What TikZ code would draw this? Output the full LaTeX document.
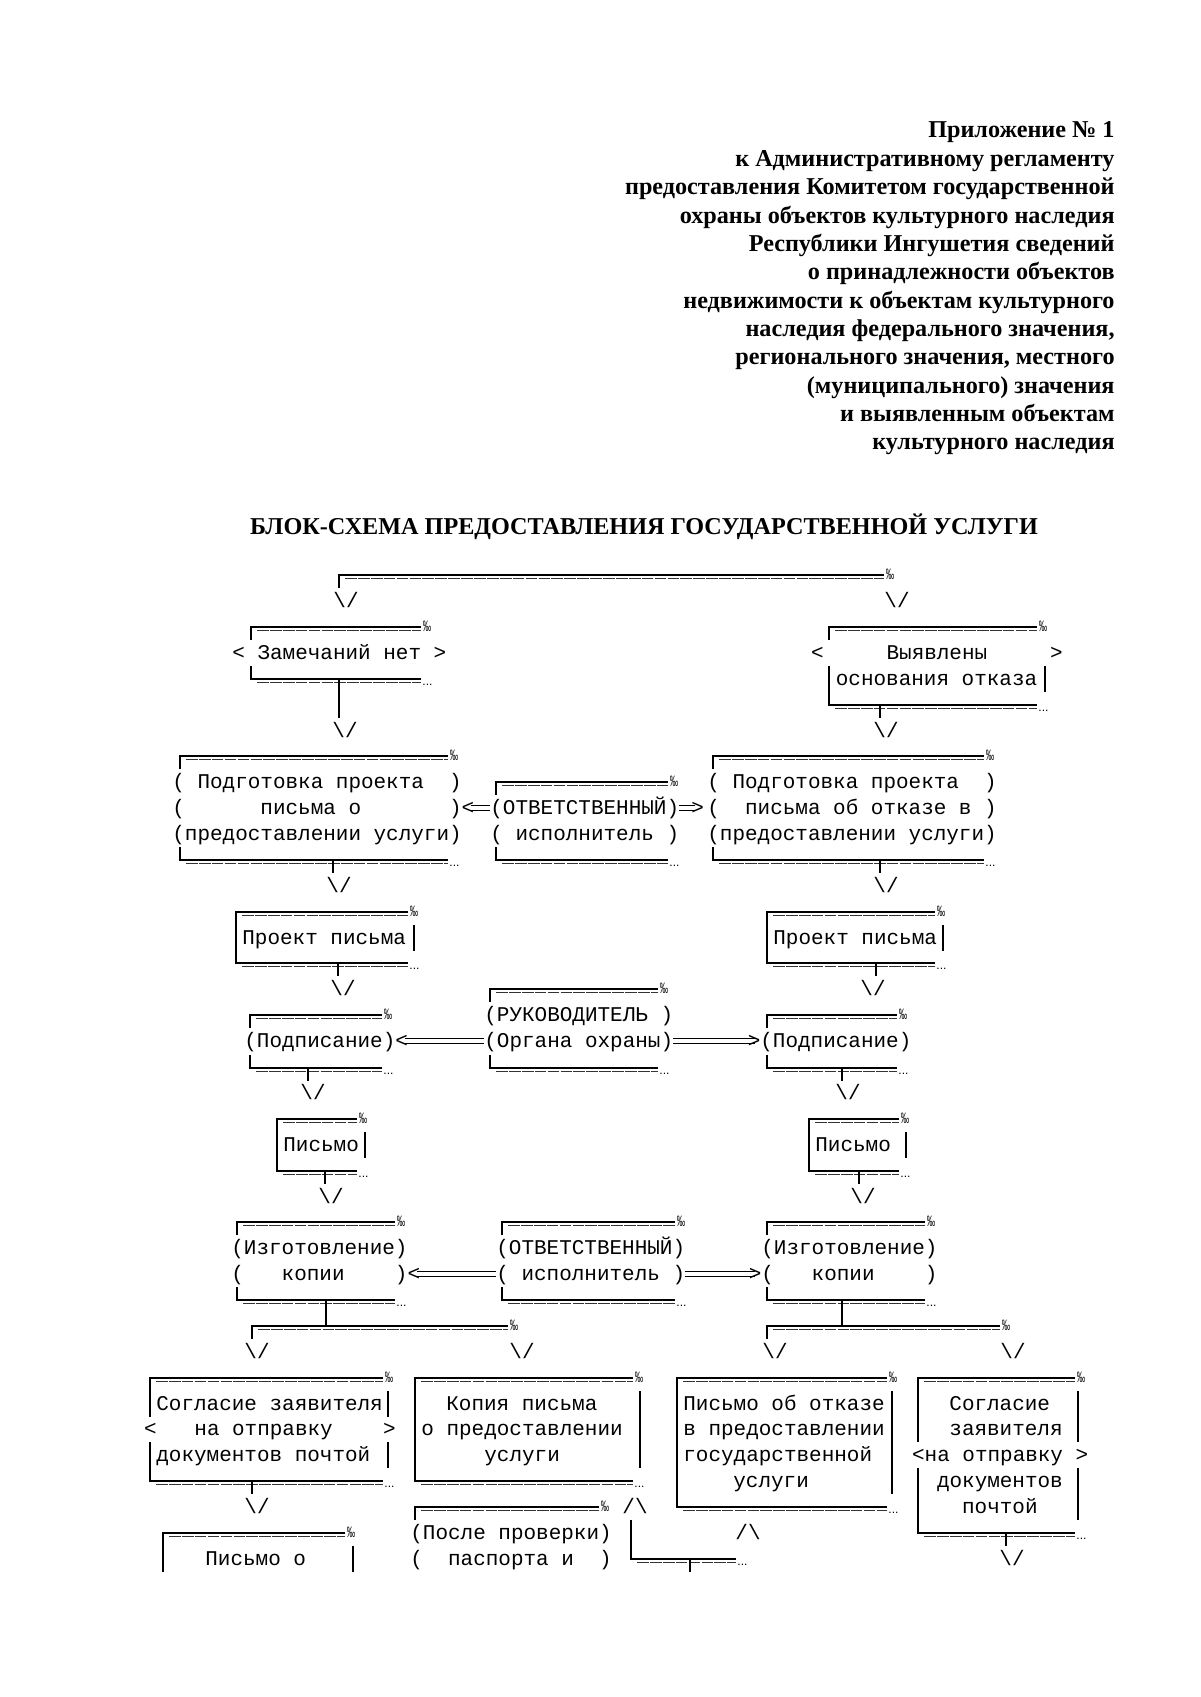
\documentclass[tikz,border=0pt]{standalone}
\usepackage{fontspec}
\usepackage{graphicx}
\setmainfont{Liberation Serif}
\newfontfamily\monof{Liberation Mono}
\newfontfamily\sansf{Liberation Sans}
\tikzset{
  thk/.style={line width=0.95pt},
  thn/.style={line width=0.45pt, black!80, dash pattern=on 5.8pt off 0.6pt},
  dbl/.style={line width=0.5pt},
  txt/.style={font=\monof\fontsize{10.4}{12}\selectfont, inner sep=0pt, anchor=base west},
  arw/.style={font=\monof\fontsize{10.4}{12}\selectfont, inner sep=0pt, anchor=base},
  hdr/.style={font=\bfseries\fontsize{12}{14}\selectfont, inner sep=0pt, anchor=base east},
  pm/.style={font=\sansf\fontsize{7.5}{7.5}\selectfont, inner sep=0pt},
  dts/.style={font=\sansf\fontsize{6}{6}\selectfont, inner sep=0pt, anchor=base west},
}
% box top: corner x, right end x, y
\newcommand\TopL[3]{%
  \draw[thk] (#1,#3+13) -- (#1,#3) -- (#2,#3);
  \draw[thn] (#1+6,#3+3.2) -- (#2,#3+3.2);
  \node[pm] at (#2+6,#3-1) {\scalebox{0.55}[1]{‰}};}
% box bottom
\newcommand\BotL[3]{%
  \draw[thk] (#1,#3-13) -- (#1,#3) -- (#2,#3);
  \draw[thn] (#1+6,#3+3.2) -- (#2,#3+3.2);
  \node[dts] at (#2+1,#3+6) {...};}
\newcommand\VL[3]{\draw[thk] (#1,#2) -- (#1,#3);}
\newcommand\DL[3]{\draw[dbl] (#1,#3-2.2) -- (#2,#3-2.2); \draw[dbl] (#1,#3+2.2) -- (#2,#3+2.2);}
\newcommand\Dn[2]{\node[arw] at (#1,#2+6) {\textbackslash/};}
\newcommand\Up[2]{\node[arw] at (#1,#2+6) {/\textbackslash};}
\begin{document}
\begin{tikzpicture}[x=0.49606pt,y=-0.49606pt]
\useasboundingbox (0,0) rectangle (1200,1697);
\fill[white] (0,0) rectangle (1200,1697);
% ---------- header ----------
\node[hdr] (h1) at (1115,138) {Приложение № 1};
\node[hdr] (h2) at (1115,166.4) {к Административному регламенту};
\node[hdr] (h3) at (1115,194.7) {предоставления Комитетом государственной};
\node[hdr] (h4) at (1115,223.1) {охраны объектов культурного наследия};
\node[hdr] (h5) at (1115,251.4) {Республики Ингушетия сведений};
\node[hdr] (h6) at (1115,279.8) {о принадлежности объектов};
\node[hdr] (h7) at (1115,308.2) {недвижимости к объектам культурного};
\node[hdr] (h8) at (1115,336.5) {наследия федерального значения,};
\node[hdr] (h9) at (1115,364.9) {регионального значения, местного};
\node[hdr] (h10) at (1115,393.2) {(муниципального) значения};
\node[hdr] (h11) at (1115,421.6) {и выявленным объектам};
\node[hdr] (h12) at (1115,450) {культурного наследия};
\node[font=\bfseries\fontsize{12}{14}\selectfont, inner sep=0pt, anchor=base] (title) at (644,534) {БЛОК-СХЕМА ПРЕДОСТАВЛЕНИЯ ГОСУДАРСТВЕННОЙ УСЛУГИ};
% ---------- top connector ----------
\TopL{339}{884}{575}
\Dn{346}{601} \Dn{897}{601}
% ---------- Замечаний нет ----------
\TopL{251}{421}{627}
\node[txt] (zam) at (232,659) {<~Замечаний~нет~>};
\BotL{251}{421}{679}
\VL{339}{679}{718}
\Dn{345}{731}
% ---------- Выявлены основания отказа ----------
\TopL{829}{1037}{627}
\node[txt] (vy1) at (810.7,659) {<~~~~~Выявлены~~~~~>};
\VL{829}{666}{705}
\VL{1045}{666}{692}
\node[txt] (vy2) at (835.5,685) {основания~отказа};
\BotL{829}{1037}{705}
\VL{880}{705}{718}
\Dn{886}{731}
% ---------- Подготовка проекта ----------
\TopL{180}{448}{756}
\TopL{713}{984}{756}
\node[txt] (pl1) at (172,788) {(~Подготовка~проекта~~)};
\node[txt] (pr1) at (707,788) {(~Подготовка~проекта~~)};
\TopL{496}{668}{782}
\node[txt] (pl2) at (172,814) {(~~~~~~письма~о~~~~~~~)};
\node[txt] (la1) at (461.3,814) {<};
\DL{471}{490}{808}
\node[txt] (m1) at (490,814) {(ОТВЕТСТВЕННЫЙ)};
\DL{678.7}{695}{808}
\node[txt] (ra1) at (691,814) {>};
\node[txt] (pr2) at (707,814) {(~~письма~об~отказе~в~)};
\node[txt] (pl3) at (172,840) {(предоставлении~услуги)};
\node[txt] (m2) at (490,840) {(~исполнитель~)};
\node[txt] (pr3) at (707,840) {(предоставлении~услуги)};
\BotL{180}{448}{860} \VL{333}{860}{873} \Dn{339}{886}
\BotL{496}{668}{860}
\BotL{713}{984}{860} \VL{880}{860}{873} \Dn{886}{886}
% ---------- Проект письма ----------
\TopL{236}{408}{912} \VL{236}{912}{963}
\node[txt] (pp1) at (242,944) {Проект~письма};
\VL{414}{925}{951}
\BotL{236}{408}{963} \VL{338}{963}{976} \Dn{343}{989}
\TopL{767}{935}{912} \VL{767}{912}{963}
\node[txt] (pp2) at (773,944) {Проект~письма};
\VL{943}{925}{951}
\BotL{767}{935}{963} \VL{876}{963}{976} \Dn{873}{989}
% ---------- Руководитель ----------
\TopL{490}{658}{989}
\node[txt] (ru1) at (484,1021) {(РУКОВОДИТЕЛЬ~)};
\node[txt] (ru2) at (484,1047) {(Органа~охраны)};
\BotL{490}{658}{1068}
% ---------- Подписание ----------
\TopL{250}{382}{1015}
\node[txt] (ps1) at (244,1047) {(Подписание)<};
\DL{405}{484}{1041}
\BotL{250}{382}{1068} \VL{308}{1068}{1081} \Dn{313}{1093}
\TopL{767}{897}{1015}
\DL{673}{755}{1041}
\node[txt] (ps2) at (747.4,1047) {>(Подписание)};
\BotL{767}{897}{1068} \VL{842}{1068}{1081} \Dn{848}{1093}
% ---------- Письмо ----------
\TopL{277}{357}{1119} \VL{277}{1119}{1171}
\node[txt] (pi1) at (283,1151) {Письмо};
\VL{365}{1132}{1158}
\BotL{277}{357}{1171} \VL{325}{1171}{1184} \Dn{331}{1197}
\TopL{809}{899}{1119} \VL{809}{1119}{1171}
\node[txt] (pi2) at (815,1151) {Письмо};
\VL{906}{1132}{1158}
\BotL{809}{899}{1171} \VL{859}{1171}{1184} \Dn{863}{1197}
% ---------- Изготовление копии ----------
\TopL{237}{395}{1222}
\node[txt] (iz1) at (231,1254) {(Изготовление)};
\node[txt] (iz2) at (231,1280) {(~~~копии~~~~)<};
\DL{417}{496}{1274}
\TopL{502}{675}{1222}
\node[txt] (ot1) at (496,1254) {(ОТВЕТСТВЕННЫЙ)};
\node[txt] (ot2) at (496,1280) {(~исполнитель~)};
\DL{684.7}{755}{1274}
\node[txt] (ra2) at (748.4,1280) {>(~~~копии~~~~)};
\TopL{767}{925}{1222}
\node[txt] (iz3) at (761,1254) {(Изготовление)};
\BotL{237}{395}{1300} \BotL{502}{675}{1300} \BotL{767}{925}{1300}
\VL{326}{1300}{1326} \VL{842}{1300}{1326}
% ---------- split ----------
\TopL{252}{508}{1326} \TopL{767}{1000}{1326}
\Dn{257}{1352} \Dn{522}{1352} \Dn{775}{1352} \Dn{1013}{1352}
% ---------- B1 ----------
\TopL{150}{383}{1378}
\VL{150}{1378}{1417}
\node[txt] (b1a) at (156,1410) {Согласие~заявителя};
\VL{388}{1391}{1417}
\node[txt] (b1b) at (143.7,1435) {<~~~на~отправку~~~~>};
\VL{150}{1442}{1481}
\node[txt] (b1c) at (156,1461) {документов~почтой};
\VL{388}{1442}{1468}
\BotL{150}{383}{1481} \VL{252}{1481}{1494} \Dn{257}{1507}
% ---------- B2 ----------
\TopL{415}{633}{1378} \VL{415}{1378}{1481}
\node[txt] (b2a) at (446,1410) {Копия~письма};
\node[txt] (b2b) at (421,1435) {о~предоставлении};
\node[txt] (b2c) at (484,1461) {услуги};
\VL{640}{1391}{1468}
\BotL{415}{633}{1481}
\Up{635}{1507}
% ---------- B3 ----------
\TopL{677}{887}{1378} \VL{677}{1378}{1507}
\node[txt] (b3a) at (683,1410) {Письмо~об~отказе};
\node[txt] (b3b) at (683,1435) {в~предоставлении};
\node[txt] (b3c) at (683,1461) {государственной};
\node[txt] (b3d) at (733,1487) {услуги};
\VL{892}{1391}{1494}
\BotL{677}{887}{1507}
\Up{748}{1533}
% ---------- B4 ----------
\TopL{918}{1075}{1378} \VL{918}{1378}{1442} \VL{918}{1468}{1533}
\node[txt] (b4a) at (949,1410) {Согласие};
\node[txt] (b4b) at (949,1435) {заявителя};
\node[txt] (b4c) at (911.7,1461) {<на~отправку~>};
\node[txt] (b4d) at (936.6,1487) {документов};
\node[txt] (b4e) at (961.7,1513) {почтой};
\VL{1078}{1391}{1442} \VL{1078}{1468}{1520}
\BotL{918}{1075}{1533} \VL{1006}{1533}{1546} \Dn{1012}{1559}
% ---------- После проверки ----------
\TopL{415}{599}{1507}
\node[txt] (pv1) at (410,1539) {(После~проверки)};
\node[txt] (pv2) at (410,1565) {(~~паспорта~и~~)};
\VL{631}{1520}{1546}
\BotL{631}{736}{1559} \VL{690}{1559}{1572}
% ---------- Письмо о ----------
\TopL{163}{345}{1533} \VL{163}{1533}{1572}
\node[txt] (pio) at (205,1565) {Письмо~о};
\VL{353}{1546}{1572}
\end{tikzpicture}
\end{document}
